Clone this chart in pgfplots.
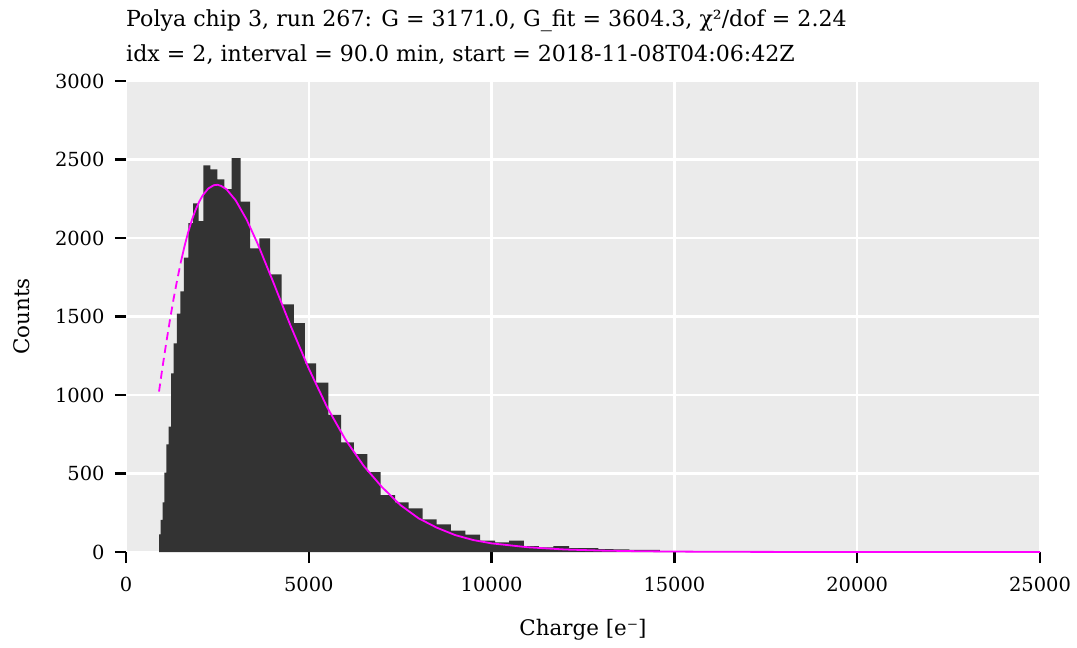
\documentclass[border=0pt]{standalone}
\usepackage{fontspec}
\setmainfont{DejaVu Serif}
\usepackage{pgfplots}
\pgfplotsset{compat=1.18}
\definecolor{panel}{HTML}{EBEBEB}
\definecolor{barcol}{HTML}{333333}
\definecolor{fitcol}{HTML}{FF00FF}
\begin{document}
\begin{tikzpicture}
\begin{axis}[
 name=ax, at={(0,0)}, anchor=south west,
 scale only axis, width=914bp, height=471bp,
 xmin=0, xmax=25000, ymin=0, ymax=3000,
 xtick={0,5000,10000,15000,20000,25000},
 ytick={0,500,1000,1500,2000,2500,3000},
 minor tick num=0,
 no markers,
 axis background/.style={fill=panel},
 axis line style={draw=none},
 grid=major, major grid style={white, line width=2.5bp},
 tick align=outside, xtick pos=bottom, ytick pos=left,
 major tick length=11bp,
 every tick/.style={black, line width=2.4bp},
 scaled ticks=false,
 /pgf/number format/assume math mode=true,
 /pgf/number format/1000 sep={},
 tick label style={font=\fontsize{19.5}{22}\selectfont},
 xticklabel style={yshift=-11bp},
 yticklabel style={xshift=-7bp},
 label style={font=\fontsize{21.5}{25}\selectfont},
 xlabel={Charge [e⁻]}, ylabel={Counts},
 xlabel style={at={(axis description cs:0.5,-0.1656)}, anchor=center},
 ylabel style={at={(axis description cs:-0.1138,0.5)}, anchor=center},
 clip=false,
]
\addplot[fill=barcol, draw=none, const plot mark left] coordinates {
(903,113) (949,204) (1004,316) (1048,505) (1102,686) (1168,798) (1231,1138)
(1305,1329) (1395,1518) (1485,1660) (1586,1875) (1704,2094) (1833,2221)
(1989,2108) (2114,2463) (2306,2437) (2497,2374) (2689,2312) (2891,2508)
(3137,2231) (3392,1934) (3646,1998) (3939,1769) (4259,1578) (4595,1457)
(4896,1202) (5197,1079) (5533,873) (5881,699) (6236,624) (6600,508)
(6966,363) (7358,316) (7732,278) (8115,208) (8498,176) (8889,136)
(9281,110) (9683,72) (10093,62) (10476,72) (10886,38) (11296,30)
(11687,38) (12117,24) (12492,25) (12918,19) (13329,17) (13766,13)
(14185,13) (14606,2) (15016,0) (15427,3) (15864,6) (16274,3) (16684,0)
(17533,2) (17943,0) (18353,2) (18791,2) (19201,0) (20022,2) (20487,0)
(20897,2) (21335,0) (24261,6) (24745,0)
} \closedcycle;
\addplot[fitcol, line width=1.8bp, dash pattern=on 8bp off 5bp] coordinates {
(903,1022) (1000,1179) (1100,1331) (1200,1475) (1300,1610) (1400,1733) (1500,1846)
};
\addplot[fitcol, line width=1.8bp] coordinates {
(1500,1846) (1600,1947) (1700,2036) (1800,2113) (1900,2177) (2000,2230)
(2100,2272) (2250,2315) (2400,2336) (2500,2339) (2600,2332) (2750,2310)
(3000,2240) (3300,2117) (3600,1964) (4000,1735) (4500,1442) (5000,1168)
(5500,923) (6000,717) (6500,549) (7000,414) (7500,300) (8000,215)
(8500,155) (9000,108) (9500,76) (10000,55) (11000,30) (12000,16)
(13000,9) (14000,5) (15000,3) (16000,1.5) (18000,0.5) (20000,0.2) (25000,0)
};
\end{axis}
\node[anchor=base west, inner sep=0pt, font=\fontsize{22.2}{26}\selectfont] at ([shift={(0bp,54bp)}]ax.north west) {Polya chip 3, run 267: G = 3171.0, G\_fit = 3604.3, χ²/dof = 2.24};
\node[anchor=base west, inner sep=0pt, font=\fontsize{22.2}{26}\selectfont] at ([shift={(0bp,19bp)}]ax.north west) {idx = 2, interval = 90.0 min, start = 2018-11-08T04:06:42Z};
\path[use as bounding box] ([shift={(-126bp,-96bp)}]ax.south west) rectangle ([shift={(37bp,81bp)}]ax.north east);
\end{tikzpicture}
\end{document}
